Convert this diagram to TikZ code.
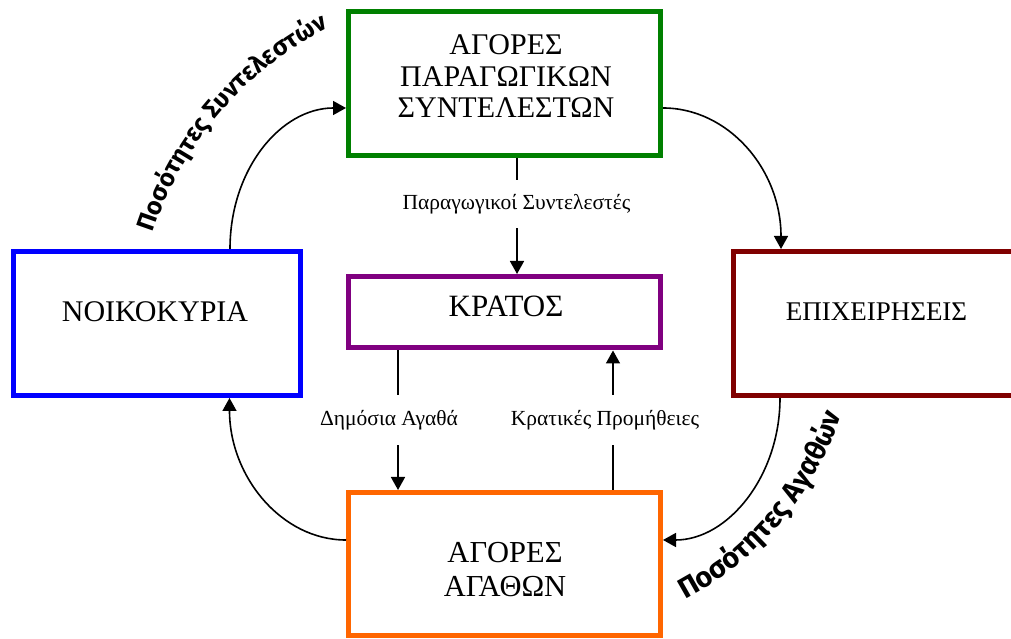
\documentclass[tikz,border=0pt]{standalone}
\usepackage{fontspec}
\setmainfont{Liberation Serif}
\newfontfamily\wafont{Fira Sans}
\usetikzlibrary{arrows.meta,calc,decorations.text}
\definecolor{cgreen}{RGB}{0,128,0}
\definecolor{cblue}{RGB}{0,0,255}
\definecolor{cpurple}{RGB}{128,0,128}
\definecolor{cred}{RGB}{128,0,0}
\definecolor{corange}{RGB}{255,102,0}
\tikzset{
  box/.style={draw=#1, line width=5pt, rectangle, inner sep=0pt},
  boxtext/.style={font=\fontsize{30}{31.5}\selectfont, align=center, inner sep=0pt},
  flowlabel/.style={font=\fontsize{21.5}{24}\selectfont, fill=white, inner sep=0pt, minimum height=#1},
  arr/.style={line width=1.6pt, -{Triangle[length=13pt,width=14pt]}},
  curvetext/.style={decoration={text along path, text align=left, text={#1}}, decorate}
}
\begin{document}
\begin{tikzpicture}[x=1pt,y=1pt]
\useasboundingbox (0,0) rectangle (1011,639);
% boxes
\node[box=cgreen, minimum width=312pt, minimum height=143.5pt] (green) at (504.5,555.25) {};
\node[box=cpurple, minimum width=312pt, minimum height=71.5pt] (state) at (504.5,326.75) {};
\node[box=cblue, minimum width=287pt, minimum height=144pt] (house) at (157,315.5) {};
\node[box=cred, minimum width=292pt, minimum height=144pt] (firms) at (879,315.5) {};
\node[box=corange, minimum width=312pt, minimum height=143pt] (goods) at (504.5,75) {};
% box texts
\node[boxtext] (greent) at (506,562.5) {ΑΓΟΡΕΣ\\ΠΑΡΑΓΩΓΙΚΩΝ\\ΣΥΝΤΕΛΕΣΤΩΝ};
\node[boxtext, font=\fontsize{31}{31}\selectfont] (statet) at (506,333) {ΚΡΑΤΟΣ};
\node[boxtext] (houset) at (155,327) {ΝΟΙΚΟΚΥΡΙΑ};
\node[boxtext, font=\fontsize{27}{30}\selectfont] (firmst) at (876.5,327.5) {ΕΠΙΧΕΙΡΗΣΕΙΣ};
\node[boxtext, font=\fontsize{30.5}{34}\selectfont] (goodst) at (505,69) {ΑΓΟΡΕΣ\\ΑΓΑΘΩΝ};
% curved flows
\draw[arr] ([xshift=73pt]house.north) .. controls +(0,80) and +(-65,0) .. ([yshift=-24.25pt]green.west);
\draw[arr] ([yshift=-24.25pt]green.east) .. controls +(65,0) and +(0,80) .. ([xshift=-98pt]firms.north);
\draw[arr] ([xshift=-99pt]firms.south) .. controls +(0,-78) and +(65,0) .. ([yshift=24pt]goods.east);
\draw[arr] ([yshift=24pt]goods.west) .. controls +(-65,0) and +(0,-78) .. ([xshift=72.5pt]house.south);
% vertical flows
\draw[arr] ([xshift=12.5pt]green.south) -- ([xshift=12.5pt]state.north);
\draw[arr] ([xshift=-106.5pt]state.south) -- ([xshift=-106.5pt]goods.north);
\draw[arr] ([xshift=108.5pt]goods.north) -- ([xshift=108.5pt]state.south);
\node[flowlabel=48pt] (l1) at (516.5,435) {Παραγωγικοί Συντελεστές};
\node[flowlabel=50pt] (l2) at (389,219) {Δημόσια Αγαθά};
\node[flowlabel=50pt] (l3) at (605,219) {Κρατικές Προμήθειες};
% curved texts
\path[curvetext={|\wafont\bfseries\fontsize{25}{25}\selectfont|Ποσότητες Συντελεστών}]
  (153,406) arc[start angle=162, end angle=116, radius=351];
\path[curvetext={|\wafont\bfseries\fontsize{28.5}{28.5}\selectfont|Ποσότητες Αγαθών}]
  (685,39.2) arc[start angle=-62, end angle=-14, radius=326];
\end{tikzpicture}
\end{document}
